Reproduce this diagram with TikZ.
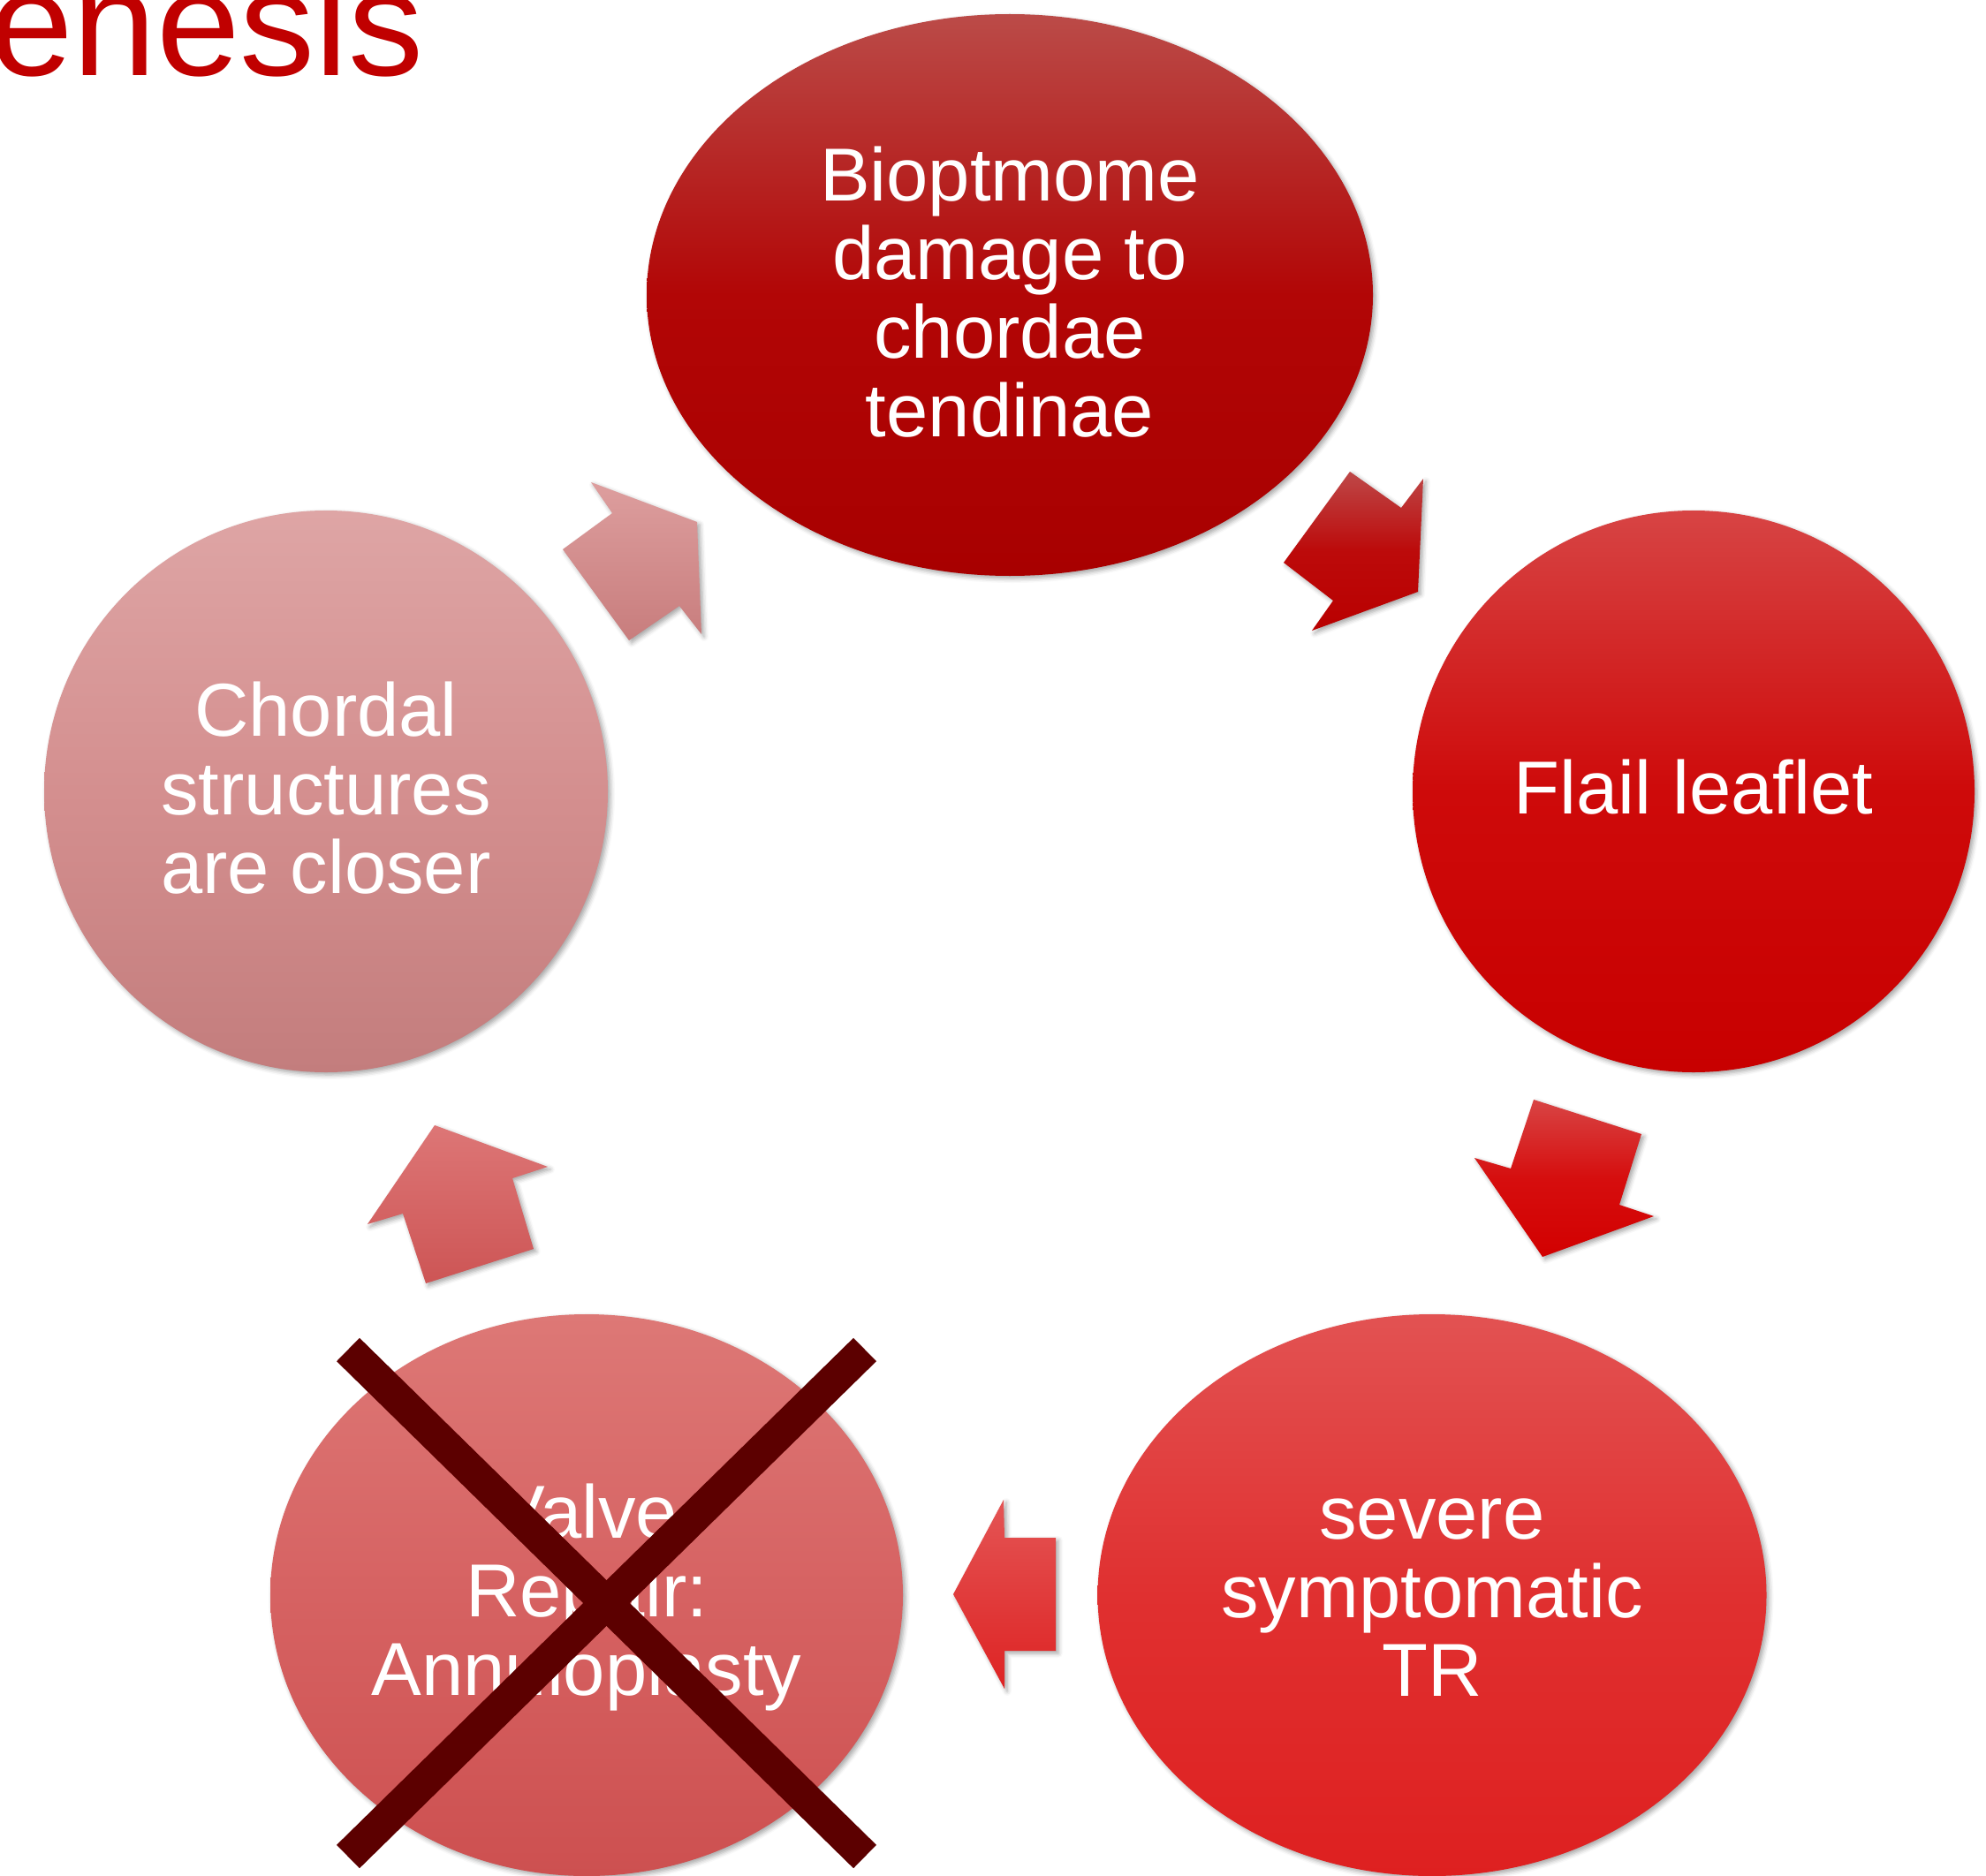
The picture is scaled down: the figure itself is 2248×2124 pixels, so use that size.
\documentclass[tikz,border=0pt]{standalone}
\usepackage{fontspec}
\setmainfont{Liberation Sans}
\usetikzlibrary{shapes.geometric,shadows.blur}
\definecolor{titlered}{RGB}{192,0,0}
\definecolor{xdark}{RGB}{92,0,0}
\begin{document}
\begin{tikzpicture}[x=1pt,y=-1pt,
  softshadow/.style={blur shadow={shadow xshift=3pt,shadow yshift=-3pt,shadow blur radius=5pt,shadow opacity=35}},
  stage/.style={ellipse,inner sep=0pt,softshadow},
  stagetext/.style={inner sep=0pt,text=white,align=center,font=\fontsize{85}{89}\selectfont},
  blockarrow/.style={softshadow},
  crossbar/.style={line width=37pt,color=xdark,line cap=butt}]
\useasboundingbox (0,0) rectangle (2248,2124);
\clip (0,0) rectangle (2248,2124);

% title fragment
\node[anchor=base west,inner sep=0pt,text=titlered,font=\fontsize{170}{174}\selectfont] (title) at (-12,86) {enesis};

% stages
\node[stage,minimum width=822pt,minimum height=636pt,
  top color={rgb,255:red,187;green,75;blue,72},bottom color={rgb,255:red,168;green,0;blue,0},
  middle color={rgb,255:red,178;green,6;blue,6}]
  (s1) at (1143,334) {};
\node[stage,minimum width=636pt,minimum height=636pt,
  top color={rgb,255:red,215;green,68;blue,68},bottom color={rgb,255:red,200;green,0;blue,0},
  middle color={rgb,255:red,206;green,10;blue,10}]
  (s2) at (1917,896) {};
\node[stage,minimum width=757pt,minimum height=636pt,
  top color={rgb,255:red,226;green,82;blue,82},bottom color={rgb,255:red,222;green,32;blue,32},
  middle color={rgb,255:red,224;green,48;blue,48}]
  (s3) at (1621,1806) {};
\node[stage,minimum width=716pt,minimum height=636pt,
  top color={rgb,255:red,221;green,120;blue,118},bottom color={rgb,255:red,205;green,80;blue,80},
  middle color={rgb,255:red,214;green,98;blue,98}]
  (s4) at (664,1806) {};
\node[stage,minimum width=638pt,minimum height=636pt,
  top color={rgb,255:red,222;green,165;blue,165},bottom color={rgb,255:red,195;green,125;blue,125},
  middle color={rgb,255:red,212;green,143;blue,143}]
  (s5) at (369,896) {};

% stage texts
\node[stagetext] (t1) at (1143,331) {Bioptmome\\damage to\\chordae\\tendinae};
\node[stagetext] (t2) at (1917,891) {Flail leaflet};
\node[stagetext] (t3) at (1621,1809) {severe\\symptomatic\\TR};
\node[stagetext] (t4) at (664,1809) {Valve\\Repair:\\Annuloplasty};
\node[stagetext] (t5) at (369,892) {Chordal\\structures\\are closer};

% block arrows
\path[blockarrow,top color={rgb,255:red,190;green,72;blue,72},bottom color={rgb,255:red,185;green,0;blue,0},middle color={rgb,255:red,188;green,10;blue,10}]
  (1528,534) -- (1586,575) -- (1611,542) -- (1605,670) -- (1485,714) -- (1509,680) -- (1453,637) -- cycle;
\path[blockarrow,top color={rgb,255:red,216;green,68;blue,68},bottom color={rgb,255:red,210;green,0;blue,0},middle color={rgb,255:red,214;green,14;blue,14}]
  (1736,1245) -- (1858,1284) -- (1833,1364) -- (1872,1377) -- (1746,1423) -- (1669,1311) -- (1710,1323) -- cycle;
\path[blockarrow,top color={rgb,255:red,228;green,85;blue,85},bottom color={rgb,255:red,222;green,35;blue,35}]
  (1195,1741) -- (1195,1869) -- (1137,1869) -- (1137,1912) -- (1079,1805) -- (1136,1698) -- (1137,1741) -- cycle;
\path[blockarrow,top color={rgb,255:red,221;green,118;blue,118},bottom color={rgb,255:red,205;green,85;blue,85}]
  (492,1274) -- (620,1321) -- (580,1334) -- (604,1414) -- (482,1453) -- (456,1374) -- (416,1386) -- cycle;
\path[blockarrow,top color={rgb,255:red,221;green,158;blue,158},bottom color={rgb,255:red,200;green,125;blue,125}]
  (789,591) -- (669,546) -- (693,581) -- (637,622) -- (712,725) -- (769,686) -- (794,718) -- cycle;

% cross over the valve repair stage
\coordinate (xa) at (394,1528);
\coordinate (xb) at (979,2102);
\coordinate (xc) at (979,1528);
\coordinate (xd) at (394,2102);
\draw[crossbar] (xa) -- (xb);
\draw[crossbar] (xc) -- (xd);
\end{tikzpicture}
\end{document}
